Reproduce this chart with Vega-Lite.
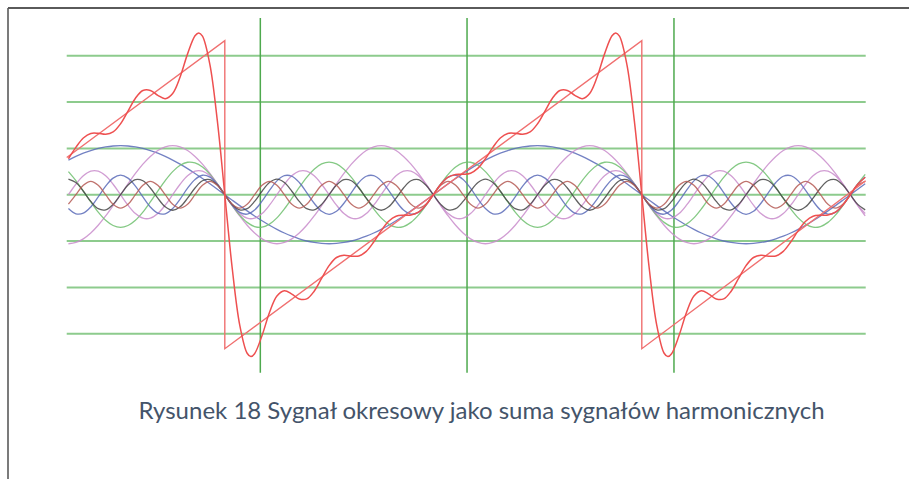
{
"$schema": "https://vega.github.io/schema/vega-lite/v6.json",
"width": 901, "height": 471,
"padding": {"left": 8, "top": 8, "right": 0, "bottom": 0},
"autosize": {"type": "none"},
"background": "white",
"config": {"view": {"stroke": null}},
"datasets": {
"h": [
{"n":-49,"a":0.748,"b":-1.058,"c":0.499,"d":0,"e":-0.299,"f":0.335,"g":-0.205},
{"n":-48,"a":0.827,"b":-1.031,"c":0.306,"d":0.226,"e":-0.412,"f":0.262,"g":0},
{"n":-47,"a":0.896,"b":-0.953,"c":0.079,"d":0.407,"e":-0.399,"f":0.075,"g":0.205},
{"n":-46,"a":0.953,"b":-0.827,"c":-0.157,"d":0.507,"e":-0.264,"f":-0.145,"g":0.29},
{"n":-45,"a":0.999,"b":-0.66,"c":-0.375,"d":0.507,"e":-0.047,"f":-0.302,"g":0.205},
{"n":-44,"a":1.031,"b":-0.459,"c":-0.551,"d":0.407,"e":0.184,"f":-0.327,"g":0},
{"n":-43,"a":1.051,"b":-0.235,"c":-0.665,"d":0.226,"e":0.358,"f":-0.209,"g":-0.205},
{"n":-42,"a":1.058,"b":0,"c":-0.705,"d":0,"e":0.423,"f":0,"g":-0.29},
{"n":-41,"a":1.051,"b":0.235,"c":-0.665,"d":-0.226,"e":0.358,"f":0.209,"g":-0.205},
{"n":-40,"a":1.031,"b":0.459,"c":-0.551,"d":-0.407,"e":0.184,"f":0.327,"g":0},
{"n":-39,"a":0.999,"b":0.66,"c":-0.375,"d":-0.507,"e":-0.047,"f":0.302,"g":0.205},
{"n":-38,"a":0.953,"b":0.827,"c":-0.157,"d":-0.507,"e":-0.264,"f":0.145,"g":0.29},
{"n":-37,"a":0.896,"b":0.953,"c":0.079,"d":-0.407,"e":-0.399,"f":-0.075,"g":0.205},
{"n":-36,"a":0.827,"b":1.031,"c":0.306,"d":-0.226,"e":-0.412,"f":-0.262,"g":0},
{"n":-35,"a":0.748,"b":1.058,"c":0.499,"d":0,"e":-0.299,"f":-0.335,"g":-0.205},
{"n":-34,"a":0.66,"b":1.031,"c":0.635,"d":0.226,"e":-0.094,"f":-0.262,"g":-0.29},
{"n":-33,"a":0.563,"b":0.953,"c":0.701,"d":0.407,"e":0.14,"f":-0.075,"g":-0.205},
{"n":-32,"a":0.459,"b":0.827,"c":0.687,"d":0.507,"e":0.331,"f":0.145,"g":0},
{"n":-31,"a":0.349,"b":0.66,"c":0.597,"d":0.507,"e":0.42,"f":0.302,"g":0.205},
{"n":-30,"a":0.235,"b":0.459,"c":0.44,"d":0.407,"e":0.381,"f":0.327,"g":0.29},
{"n":-29,"a":0.118,"b":0.235,"c":0.233,"d":0.226,"e":0.225,"f":0.209,"g":0.205},
{"n":-28,"a":0,"b":0,"c":0,"d":0,"e":0,"f":0,"g":0},
{"n":-27,"a":-0.118,"b":-0.235,"c":-0.233,"d":-0.226,"e":-0.225,"f":-0.209,"g":-0.205},
{"n":-26,"a":-0.235,"b":-0.459,"c":-0.44,"d":-0.407,"e":-0.381,"f":-0.327,"g":-0.29},
{"n":-25,"a":-0.349,"b":-0.66,"c":-0.597,"d":-0.507,"e":-0.42,"f":-0.302,"g":-0.205},
{"n":-24,"a":-0.459,"b":-0.827,"c":-0.687,"d":-0.507,"e":-0.331,"f":-0.145,"g":0},
{"n":-23,"a":-0.563,"b":-0.953,"c":-0.701,"d":-0.407,"e":-0.14,"f":0.075,"g":0.205},
{"n":-22,"a":-0.66,"b":-1.031,"c":-0.635,"d":-0.226,"e":0.094,"f":0.262,"g":0.29},
{"n":-21,"a":-0.748,"b":-1.058,"c":-0.499,"d":0,"e":0.299,"f":0.335,"g":0.205},
{"n":-20,"a":-0.827,"b":-1.031,"c":-0.306,"d":0.226,"e":0.412,"f":0.262,"g":0},
{"n":-19,"a":-0.896,"b":-0.953,"c":-0.079,"d":0.407,"e":0.399,"f":0.075,"g":-0.205},
{"n":-18,"a":-0.953,"b":-0.827,"c":0.157,"d":0.507,"e":0.264,"f":-0.145,"g":-0.29},
{"n":-17,"a":-0.999,"b":-0.66,"c":0.375,"d":0.507,"e":0.047,"f":-0.302,"g":-0.205},
{"n":-16,"a":-1.031,"b":-0.459,"c":0.551,"d":0.407,"e":-0.184,"f":-0.327,"g":0},
{"n":-15,"a":-1.051,"b":-0.235,"c":0.665,"d":0.226,"e":-0.358,"f":-0.209,"g":0.205},
{"n":-14,"a":-1.058,"b":0,"c":0.705,"d":0,"e":-0.423,"f":0,"g":0.29},
{"n":-13,"a":-1.051,"b":0.235,"c":0.665,"d":-0.226,"e":-0.358,"f":0.209,"g":0.205},
{"n":-12,"a":-1.031,"b":0.459,"c":0.551,"d":-0.407,"e":-0.184,"f":0.327,"g":0},
{"n":-11,"a":-0.999,"b":0.66,"c":0.375,"d":-0.507,"e":0.047,"f":0.302,"g":-0.205},
{"n":-10,"a":-0.953,"b":0.827,"c":0.157,"d":-0.507,"e":0.264,"f":0.145,"g":-0.29},
{"n":-9,"a":-0.896,"b":0.953,"c":-0.079,"d":-0.407,"e":0.399,"f":-0.075,"g":-0.205},
{"n":-8,"a":-0.827,"b":1.031,"c":-0.306,"d":-0.226,"e":0.412,"f":-0.262,"g":0},
{"n":-7,"a":-0.748,"b":1.058,"c":-0.499,"d":0,"e":0.299,"f":-0.335,"g":0.205},
{"n":-6,"a":-0.66,"b":1.031,"c":-0.635,"d":0.226,"e":0.094,"f":-0.262,"g":0.29},
{"n":-5,"a":-0.563,"b":0.953,"c":-0.701,"d":0.407,"e":-0.14,"f":-0.075,"g":0.205},
{"n":-4,"a":-0.459,"b":0.827,"c":-0.687,"d":0.507,"e":-0.331,"f":0.145,"g":0},
{"n":-3,"a":-0.349,"b":0.66,"c":-0.597,"d":0.507,"e":-0.42,"f":0.302,"g":-0.205},
{"n":-2,"a":-0.235,"b":0.459,"c":-0.44,"d":0.407,"e":-0.381,"f":0.327,"g":-0.29},
{"n":-1,"a":-0.118,"b":0.235,"c":-0.233,"d":0.226,"e":-0.225,"f":0.209,"g":-0.205},
{"n":0,"a":0,"b":0,"c":0,"d":0,"e":0,"f":0,"g":0},
{"n":1,"a":0.118,"b":-0.235,"c":0.233,"d":-0.226,"e":0.225,"f":-0.209,"g":0.205},
{"n":2,"a":0.235,"b":-0.459,"c":0.44,"d":-0.407,"e":0.381,"f":-0.327,"g":0.29},
{"n":3,"a":0.349,"b":-0.66,"c":0.597,"d":-0.507,"e":0.42,"f":-0.302,"g":0.205},
{"n":4,"a":0.459,"b":-0.827,"c":0.687,"d":-0.507,"e":0.331,"f":-0.145,"g":0},
{"n":5,"a":0.563,"b":-0.953,"c":0.701,"d":-0.407,"e":0.14,"f":0.075,"g":-0.205},
{"n":6,"a":0.66,"b":-1.031,"c":0.635,"d":-0.226,"e":-0.094,"f":0.262,"g":-0.29},
{"n":7,"a":0.748,"b":-1.058,"c":0.499,"d":0,"e":-0.299,"f":0.335,"g":-0.205},
{"n":8,"a":0.827,"b":-1.031,"c":0.306,"d":0.226,"e":-0.412,"f":0.262,"g":0},
{"n":9,"a":0.896,"b":-0.953,"c":0.079,"d":0.407,"e":-0.399,"f":0.075,"g":0.205},
{"n":10,"a":0.953,"b":-0.827,"c":-0.157,"d":0.507,"e":-0.264,"f":-0.145,"g":0.29},
{"n":11,"a":0.999,"b":-0.66,"c":-0.375,"d":0.507,"e":-0.047,"f":-0.302,"g":0.205},
{"n":12,"a":1.031,"b":-0.459,"c":-0.551,"d":0.407,"e":0.184,"f":-0.327,"g":0},
{"n":13,"a":1.051,"b":-0.235,"c":-0.665,"d":0.226,"e":0.358,"f":-0.209,"g":-0.205},
{"n":14,"a":1.058,"b":0,"c":-0.705,"d":0,"e":0.423,"f":0,"g":-0.29},
{"n":15,"a":1.051,"b":0.235,"c":-0.665,"d":-0.226,"e":0.358,"f":0.209,"g":-0.205},
{"n":16,"a":1.031,"b":0.459,"c":-0.551,"d":-0.407,"e":0.184,"f":0.327,"g":0},
{"n":17,"a":0.999,"b":0.66,"c":-0.375,"d":-0.507,"e":-0.047,"f":0.302,"g":0.205},
{"n":18,"a":0.953,"b":0.827,"c":-0.157,"d":-0.507,"e":-0.264,"f":0.145,"g":0.29},
{"n":19,"a":0.896,"b":0.953,"c":0.079,"d":-0.407,"e":-0.399,"f":-0.075,"g":0.205},
{"n":20,"a":0.827,"b":1.031,"c":0.306,"d":-0.226,"e":-0.412,"f":-0.262,"g":0},
{"n":21,"a":0.748,"b":1.058,"c":0.499,"d":0,"e":-0.299,"f":-0.335,"g":-0.205},
{"n":22,"a":0.66,"b":1.031,"c":0.635,"d":0.226,"e":-0.094,"f":-0.262,"g":-0.29},
{"n":23,"a":0.563,"b":0.953,"c":0.701,"d":0.407,"e":0.14,"f":-0.075,"g":-0.205},
{"n":24,"a":0.459,"b":0.827,"c":0.687,"d":0.507,"e":0.331,"f":0.145,"g":0},
{"n":25,"a":0.349,"b":0.66,"c":0.597,"d":0.507,"e":0.42,"f":0.302,"g":0.205},
{"n":26,"a":0.235,"b":0.459,"c":0.44,"d":0.407,"e":0.381,"f":0.327,"g":0.29},
{"n":27,"a":0.118,"b":0.235,"c":0.233,"d":0.226,"e":0.225,"f":0.209,"g":0.205},
{"n":28,"a":0,"b":0,"c":0,"d":0,"e":0,"f":0,"g":0},
{"n":29,"a":-0.118,"b":-0.235,"c":-0.233,"d":-0.226,"e":-0.225,"f":-0.209,"g":-0.205},
{"n":30,"a":-0.235,"b":-0.459,"c":-0.44,"d":-0.407,"e":-0.381,"f":-0.327,"g":-0.29},
{"n":31,"a":-0.349,"b":-0.66,"c":-0.597,"d":-0.507,"e":-0.42,"f":-0.302,"g":-0.205},
{"n":32,"a":-0.459,"b":-0.827,"c":-0.687,"d":-0.507,"e":-0.331,"f":-0.145,"g":0},
{"n":33,"a":-0.563,"b":-0.953,"c":-0.701,"d":-0.407,"e":-0.14,"f":0.075,"g":0.205},
{"n":34,"a":-0.66,"b":-1.031,"c":-0.635,"d":-0.226,"e":0.094,"f":0.262,"g":0.29},
{"n":35,"a":-0.748,"b":-1.058,"c":-0.499,"d":0,"e":0.299,"f":0.335,"g":0.205},
{"n":36,"a":-0.827,"b":-1.031,"c":-0.306,"d":0.226,"e":0.412,"f":0.262,"g":0},
{"n":37,"a":-0.896,"b":-0.953,"c":-0.079,"d":0.407,"e":0.399,"f":0.075,"g":-0.205},
{"n":38,"a":-0.953,"b":-0.827,"c":0.157,"d":0.507,"e":0.264,"f":-0.145,"g":-0.29},
{"n":39,"a":-0.999,"b":-0.66,"c":0.375,"d":0.507,"e":0.047,"f":-0.302,"g":-0.205},
{"n":40,"a":-1.031,"b":-0.459,"c":0.551,"d":0.407,"e":-0.184,"f":-0.327,"g":0},
{"n":41,"a":-1.051,"b":-0.235,"c":0.665,"d":0.226,"e":-0.358,"f":-0.209,"g":0.205},
{"n":42,"a":-1.058,"b":0,"c":0.705,"d":0,"e":-0.423,"f":0,"g":0.29},
{"n":43,"a":-1.051,"b":0.235,"c":0.665,"d":-0.226,"e":-0.358,"f":0.209,"g":0.205},
{"n":44,"a":-1.031,"b":0.459,"c":0.551,"d":-0.407,"e":-0.184,"f":0.327,"g":0},
{"n":45,"a":-0.999,"b":0.66,"c":0.375,"d":-0.507,"e":0.047,"f":0.302,"g":-0.205},
{"n":46,"a":-0.953,"b":0.827,"c":0.157,"d":-0.507,"e":0.264,"f":0.145,"g":-0.29},
{"n":47,"a":-0.896,"b":0.953,"c":-0.079,"d":-0.407,"e":0.399,"f":-0.075,"g":-0.205},
{"n":48,"a":-0.827,"b":1.031,"c":-0.306,"d":-0.226,"e":0.412,"f":-0.262,"g":0},
{"n":49,"a":-0.748,"b":1.058,"c":-0.499,"d":0,"e":0.299,"f":-0.335,"g":0.205},
{"n":50,"a":-0.66,"b":1.031,"c":-0.635,"d":0.226,"e":0.094,"f":-0.262,"g":0.29},
{"n":51,"a":-0.563,"b":0.953,"c":-0.701,"d":0.407,"e":-0.14,"f":-0.075,"g":0.205},
{"n":52,"a":-0.459,"b":0.827,"c":-0.687,"d":0.507,"e":-0.331,"f":0.145,"g":0},
{"n":53,"a":-0.349,"b":0.66,"c":-0.597,"d":0.507,"e":-0.42,"f":0.302,"g":-0.205},
{"n":54,"a":-0.235,"b":0.459,"c":-0.44,"d":0.407,"e":-0.381,"f":0.327,"g":-0.29},
{"n":55,"a":-0.118,"b":0.235,"c":-0.233,"d":0.226,"e":-0.225,"f":0.209,"g":-0.205},
{"n":56,"a":0,"b":0,"c":0,"d":0,"e":0,"f":0,"g":0},
{"n":57,"a":0.118,"b":-0.235,"c":0.233,"d":-0.226,"e":0.225,"f":-0.209,"g":0.205},
{"n":58,"a":0.235,"b":-0.459,"c":0.44,"d":-0.407,"e":0.381,"f":-0.327,"g":0.29}
],
"s": [
{"n":-49,"s":0.776},{"n":-48,"s":1.021},{"n":-47,"s":1.223},{"n":-46,"s":1.323},{"n":-45,"s":1.326},{"n":-44,"s":1.305},{"n":-43,"s":1.355},{"n":-42,"s":1.531},{"n":-41,"s":1.806},{"n":-40,"s":2.083},{"n":-39,"s":2.249},{"n":-38,"s":2.251},{"n":-37,"s":2.145},{"n":-36,"s":2.073},{"n":-35,"s":2.186},{"n":-34,"s":2.542},{"n":-33,"s":3.04},{"n":-32,"s":3.431},{"n":-31.5,"s":3.493},{"n":-31,"s":3.422},{"n":-30,"s":2.809},{"n":-29,"s":1.593},{"n":-28,"s":0},
{"n":-27,"s":-1.593},{"n":-26,"s":-2.809},{"n":-25,"s":-3.422},{"n":-24.5,"s":-3.493},{"n":-24,"s":-3.431},{"n":-23,"s":-3.04},{"n":-22,"s":-2.542},{"n":-21,"s":-2.186},{"n":-20,"s":-2.073},{"n":-19,"s":-2.145},{"n":-18,"s":-2.251},{"n":-17,"s":-2.249},{"n":-16,"s":-2.083},{"n":-15,"s":-1.806},{"n":-14,"s":-1.531},{"n":-13,"s":-1.355},{"n":-12,"s":-1.305},{"n":-11,"s":-1.326},{"n":-10,"s":-1.323},{"n":-9,"s":-1.223},{"n":-8,"s":-1.021},{"n":-7,"s":-0.776},{"n":-6,"s":-0.573},{"n":-5,"s":-0.464},{"n":-4,"s":-0.441},{"n":-3,"s":-0.437},{"n":-2,"s":-0.378},{"n":-1,"s":-0.224},
{"n":0,"s":0},{"n":1,"s":0.224},{"n":2,"s":0.378},{"n":3,"s":0.437},{"n":4,"s":0.441},{"n":5,"s":0.464},{"n":6,"s":0.573},{"n":7,"s":0.776},{"n":8,"s":1.021},{"n":9,"s":1.223},{"n":10,"s":1.323},{"n":11,"s":1.326},{"n":12,"s":1.305},{"n":13,"s":1.355},{"n":14,"s":1.531},{"n":15,"s":1.806},{"n":16,"s":2.083},{"n":17,"s":2.249},{"n":18,"s":2.251},{"n":19,"s":2.145},{"n":20,"s":2.073},{"n":21,"s":2.186},{"n":22,"s":2.542},{"n":23,"s":3.04},{"n":24,"s":3.431},{"n":24.5,"s":3.493},{"n":25,"s":3.422},{"n":26,"s":2.809},{"n":27,"s":1.593},{"n":28,"s":0},
{"n":29,"s":-1.593},{"n":30,"s":-2.809},{"n":31,"s":-3.422},{"n":31.5,"s":-3.493},{"n":32,"s":-3.431},{"n":33,"s":-3.04},{"n":34,"s":-2.542},{"n":35,"s":-2.186},{"n":36,"s":-2.073},{"n":37,"s":-2.145},{"n":38,"s":-2.251},{"n":39,"s":-2.249},{"n":40,"s":-2.083},{"n":41,"s":-1.806},{"n":42,"s":-1.531},{"n":43,"s":-1.355},{"n":44,"s":-1.305},{"n":45,"s":-1.326},{"n":46,"s":-1.323},{"n":47,"s":-1.223},{"n":48,"s":-1.021},{"n":49,"s":-0.776},{"n":50,"s":-0.573},{"n":51,"s":-0.464},{"n":52,"s":-0.441},{"n":53,"s":-0.437},{"n":54,"s":-0.378},{"n":55,"s":-0.224},{"n":56,"s":0},{"n":57,"s":0.224},{"n":58,"s":0.378}
]
},
"layer": [
{"data": {"values": [{"g":-3},{"g":-2},{"g":-1},{"g":0},{"g":1},{"g":2},{"g":3}]},
 "mark": {"type": "rule", "color": "#8dcb8d", "strokeWidth": 2},
 "encoding": {
  "y": {"field": "g", "type": "quantitative", "scale": {"domain": [-6.136, 4.03], "nice": false, "zero": false}, "axis": null},
  "x": {"datum": -49.23, "type": "quantitative", "scale": {"domain": [-57.115, 63.883], "nice": false, "zero": false}, "axis": null},
  "x2": {"datum": 58.07}}},
{"data": {"values": [{"v":-23.23},{"v":4.53},{"v":32.32}]},
 "mark": {"type": "rule", "color": "#4ea94e", "strokeWidth": 1.5},
 "encoding": {
  "x": {"field": "v", "type": "quantitative", "scale": {"domain": [-57.115, 63.883], "nice": false, "zero": false}, "axis": null},
  "y": {"datum": 3.814, "type": "quantitative", "scale": {"domain": [-6.136, 4.03], "nice": false, "zero": false}, "axis": null},
  "y2": {"datum": -3.842}}},
{"data": {"name": "h"},
 "transform": [{"fold": ["a","b","c","d","e","f","g"], "as": ["k","v"]}],
 "mark": {"type": "line", "strokeWidth": 1.3, "opacity": 0.85, "interpolate": "catmull-rom"},
 "encoding": {
  "x": {"field": "n", "type": "quantitative", "scale": {"domain": [-57.115, 63.883], "nice": false, "zero": false}, "axis": null},
  "y": {"field": "v", "type": "quantitative", "scale": {"domain": [-6.136, 4.03], "nice": false, "zero": false}, "axis": null},
  "color": {"field": "k", "type": "nominal", "legend": null,
   "scale": {"domain": ["a","b","c","d","e","f","g"], "range": ["#5b6bb8","#c98ccb","#6fbf6f","#c98ccb","#5b6bb8","#454545","#b55a55"]}}}},
{"data": {"values": [{"i":0,"n":-49.23,"w":0.804},{"i":1,"n":-28,"w":3.324},{"i":2,"n":-28,"w":-3.324},{"i":3,"n":28,"w":3.324},{"i":4,"n":28,"w":-3.324},{"i":5,"n":58.07,"w":0.3}]},
 "mark": {"type": "line", "color": "#f07070", "strokeWidth": 1.4},
 "encoding": {
  "x": {"field": "n", "type": "quantitative", "scale": {"domain": [-57.115, 63.883], "nice": false, "zero": false}, "axis": null},
  "y": {"field": "w", "type": "quantitative", "scale": {"domain": [-6.136, 4.03], "nice": false, "zero": false}, "axis": null},
  "order": {"field": "i", "type": "quantitative"}}},
{"data": {"name": "s"},
 "mark": {"type": "line", "color": "#ee5050", "strokeWidth": 1.5, "interpolate": "catmull-rom"},
 "encoding": {
  "x": {"field": "n", "type": "quantitative", "scale": {"domain": [-57.115, 63.883], "nice": false, "zero": false}, "axis": null},
  "y": {"field": "s", "type": "quantitative", "scale": {"domain": [-6.136, 4.03], "nice": false, "zero": false}, "axis": null}}},
{"data": {"values": [{"edge": "left"}]},
 "mark": {"type": "rule", "color": "#5a5a5a", "strokeWidth": 1.6},
 "encoding": {"x": {"datum": -57.115, "type": "quantitative", "scale": {"domain": [-57.115, 63.883], "nice": false, "zero": false}, "axis": null}}},
{"data": {"values": [{"edge": "top"}]},
 "mark": {"type": "rule", "color": "#5a5a5a", "strokeWidth": 1.8},
 "encoding": {"y": {"datum": 4.03, "type": "quantitative", "scale": {"domain": [-6.136, 4.03], "nice": false, "zero": false}, "axis": null}}},
{"data": {"values": [{"caption": "Rysunek 18 Sygnał okresowy jako suma sygnałów harmonicznych"}]},
 "mark": {"type": "text", "font": "Lato", "fontSize": 24, "color": "#44546a", "align": "center", "baseline": "middle"},
 "encoding": {
  "text": {"field": "caption", "type": "nominal"},
  "x": {"datum": 6.47, "type": "quantitative", "scale": {"domain": [-57.115, 63.883], "nice": false, "zero": false}, "axis": null},
  "y": {"datum": -4.69, "type": "quantitative", "scale": {"domain": [-6.136, 4.03], "nice": false, "zero": false}, "axis": null}}}
]
}
